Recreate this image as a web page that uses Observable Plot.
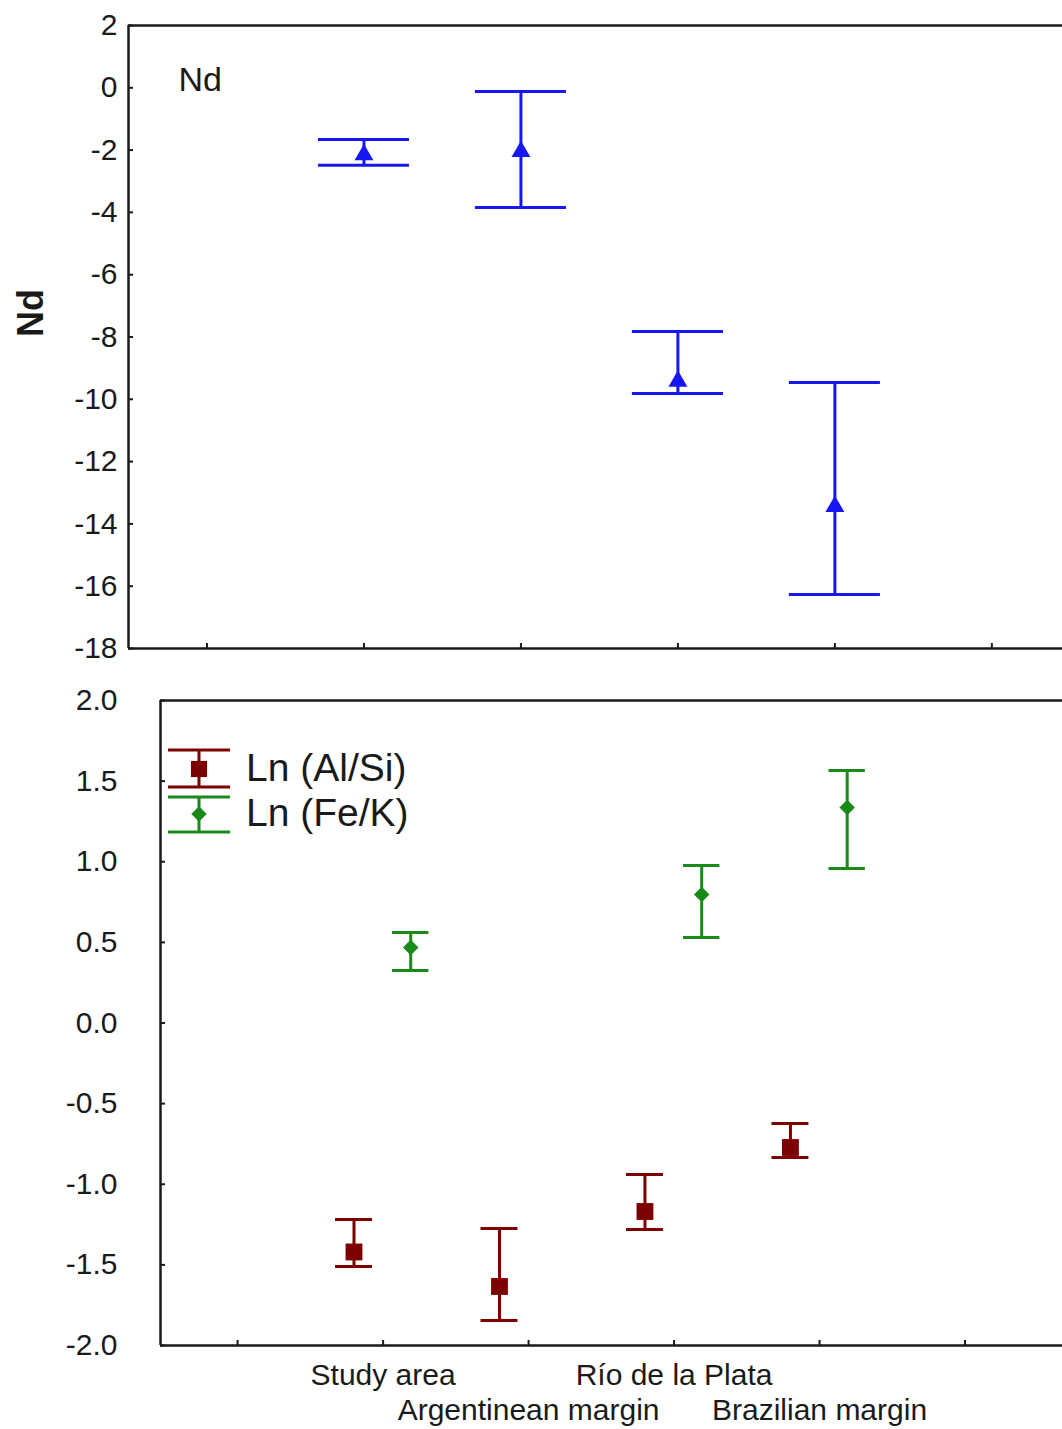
<!DOCTYPE html>
<html><head><meta charset="utf-8">
<script src="https://cdn.jsdelivr.net/npm/d3@7"></script>
<script src="https://cdn.jsdelivr.net/npm/@observablehq/plot@0.6"></script>
<style>
body{margin:0;background:#fff;font-family:"Liberation Sans",Arial,sans-serif;}
#wrap{position:relative;width:1062px;height:1429px;overflow:hidden;background:#fff;}
#top{position:absolute;left:0;top:0;}
#bot{position:absolute;left:0;top:670px;}
#legend{position:absolute;left:0;top:0;pointer-events:none;}
</style></head><body>
<div id="wrap"><div id="top"></div><div id="bot"></div></div>
<script>
// ---- data ----
const regions = ["Study area", "Argentinean margin", "Río de la Plata", "Brazilian margin"];
const ndMean = [-2.15, -2.05, -9.42, -13.44];
const ndLow  = [-2.49, -3.84, -9.81, -16.27];
const ndHigh = [-1.66, -0.12, -7.82, -9.46];
const alSiMean = [-1.42, -1.634, -1.169, -0.772];
const alSiLow  = [-1.51, -1.845, -1.28, -0.834];
const alSiHigh = [-1.219, -1.274, -0.94, -0.623];
const feKMean = [0.468, null, 0.797, 1.336];
const feKLow  = [0.326, null, 0.530, 0.958];
const feKHigh = [0.561, null, 0.977, 1.566];
const seriesNames = ["Ln (Al/Si)", "Ln (Fe/K)"];
const ndTicks = [2, 0, -2, -4, -6, -8, -10, -12, -14, -16, -18];
const lnTicks = [2.0, 1.5, 1.0, 0.5, 0.0, -0.5, -1.0, -1.5, -2.0];
const catTicks = [0, 1, 2, 3, 4, 5];

// ---- styles ----
const BLUE = "#1717f2", RED = "#7d0000", GREEN = "#178a17", INK = "#1a1a1a";
const FONT = "Liberation Sans, Arial, sans-serif";

const ndData = regions.map((r, i) => ({region: r, pos: i + 1, mean: ndMean[i], lo: ndLow[i], hi: ndHigh[i]}));
const alData = regions.map((r, i) => ({region: r, pos: i + 1 - 0.2, mean: alSiMean[i], lo: alSiLow[i], hi: alSiHigh[i]}));
const feData = regions.map((r, i) => ({region: r, pos: i + 1 + 0.19, mean: feKMean[i], lo: feKLow[i], hi: feKHigh[i]}))
  .filter(d => d.mean != null);

function errorBars(data, color, capHalf, symbol, r) {
  return [
    Plot.ruleX(data, {x: "pos", y1: "lo", y2: "hi", stroke: color, strokeWidth: 3}),
    Plot.ruleY(data, {y: "lo", x1: d => d.pos - capHalf, x2: d => d.pos + capHalf, stroke: color, strokeWidth: 3}),
    Plot.ruleY(data, {y: "hi", x1: d => d.pos - capHalf, x2: d => d.pos + capHalf, stroke: color, strokeWidth: 3}),
    Plot.dot(data, {x: "pos", y: "mean", symbol, r, fill: color, stroke: "none"})
  ];
}

const topPlot = Plot.plot({
  width: 1062, height: 670,
  marginTop: 25, marginBottom: 22, marginLeft: 128, marginRight: 0,
  style: {fontFamily: FONT, fontSize: "30px", color: INK, background: "white", overflow: "visible"},
  x: {type: "linear", domain: [-0.5, 5.45], axis: null},
  y: {domain: [-18, 2], axis: null},
  marks: [
    Plot.axisY(ndTicks, {anchor: "left", tickSize: 0, tickPadding: 11, fontSize: 30, tickFormat: d => String(d), label: null}),
    Plot.axisY(ndTicks, {anchor: "left", tickSize: 5, dx: 5, tickFormat: () => "", strokeWidth: 2, label: null}),
    Plot.axisX(catTicks, {anchor: "bottom", tickSize: 5, dy: -5, tickFormat: () => "", strokeWidth: 2, label: null}),
    Plot.ruleY([2, -18], {stroke: INK, strokeWidth: 2.5}),
    Plot.ruleX([-0.5], {stroke: INK, strokeWidth: 2.5}),
    ...errorBars(ndData, BLUE, 0.29, "triangle", 7),
    Plot.text(["Nd"], {frameAnchor: "top-left", dx: 50, dy: 55, textAnchor: "start", lineAnchor: "middle", fontSize: 34, fill: INK}),
    Plot.text(["Nd"], {frameAnchor: "left", dx: -97, rotate: -90, fontWeight: "bold", fontSize: 36, fill: INK})
  ]
});
document.getElementById("top").appendChild(topPlot);

const botPlot = Plot.plot({
  width: 1062, height: 759,
  marginTop: 30, marginBottom: 84, marginLeft: 160, marginRight: 0,
  style: {fontFamily: FONT, fontSize: "30px", color: INK, background: "white", overflow: "visible"},
  x: {type: "linear", domain: [-0.53, 5.67], axis: null},
  y: {domain: [-2, 2], axis: null},
  marks: [
    Plot.axisY(lnTicks, {anchor: "left", tickSize: 0, tickPadding: 43, fontSize: 30, tickFormat: d => d.toFixed(1), label: null}),
    Plot.axisY(lnTicks, {anchor: "left", tickSize: 5, dx: 5, tickFormat: () => "", strokeWidth: 2, label: null}),
    Plot.axisX(catTicks, {anchor: "bottom", tickSize: 5, dy: -5, tickFormat: () => "", strokeWidth: 2, label: null}),
    Plot.ruleY([2, -2], {stroke: INK, strokeWidth: 2.5}),
    Plot.ruleX([-0.53], {stroke: INK, strokeWidth: 2.5}),
    ...errorBars(alData, RED, 0.127, "square", 9.5),
    ...errorBars(feData, GREEN, 0.125, d3.symbolDiamond2, 7),
    Plot.text(regions, {x: (d, i) => i + 1, filter: (d, i) => i % 2 === 0, frameAnchor: "bottom", dy: 30, lineAnchor: "middle", fontSize: 30, fill: INK}),
    Plot.text(regions, {x: (d, i) => i + 1, filter: (d, i) => i % 2 === 1, frameAnchor: "bottom", dy: 65, lineAnchor: "middle", fontSize: 30, fill: INK})
  ]
});
document.getElementById("bot").appendChild(botPlot);

// ---- legend (overlay) ----
const lg = d3.select("#wrap").append("svg").attr("id", "legend").attr("width", 1062).attr("height", 1429);
const legendItems = [
  {name: seriesNames[0], color: RED, sym: d3.symbolSquare, size: 260, top: 750, bottom: 787, mid: 769},
  {name: seriesNames[1], color: GREEN, sym: d3.symbolDiamond2, size: 150, top: 797, bottom: 832, mid: 814}
];
legendItems.forEach(it => {
  const g = lg.append("g");
  g.append("line").attr("x1", 199).attr("x2", 199).attr("y1", it.top).attr("y2", it.bottom).attr("stroke", it.color).attr("stroke-width", 3);
  g.append("line").attr("x1", 168).attr("x2", 230).attr("y1", it.top).attr("y2", it.top).attr("stroke", it.color).attr("stroke-width", 3);
  g.append("line").attr("x1", 168).attr("x2", 230).attr("y1", it.bottom).attr("y2", it.bottom).attr("stroke", it.color).attr("stroke-width", 3);
  g.append("path").attr("d", d3.symbol(it.sym, it.size)()).attr("transform", `translate(199,${it.mid})`).attr("fill", it.color);
  g.append("text").attr("x", 246).attr("y", it.mid + 2).attr("dominant-baseline", "middle")
    .attr("font-family", FONT).attr("font-size", 39).attr("fill", INK).text(it.name);
});
</script>
</body></html>
